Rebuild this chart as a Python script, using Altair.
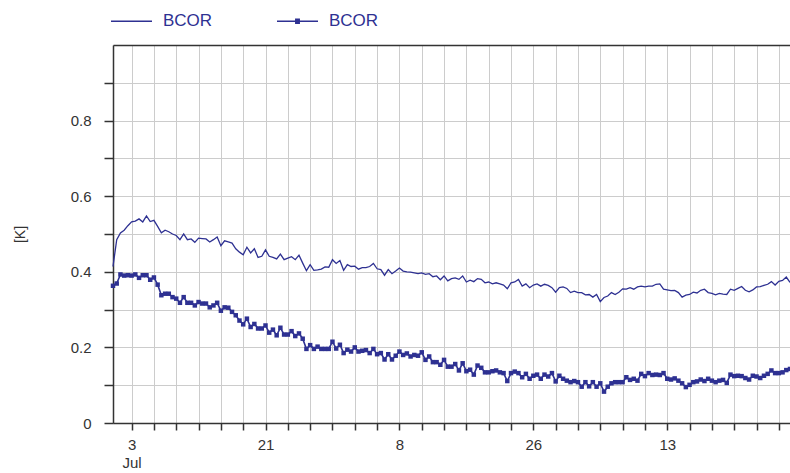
import altair as alt
import pandas as pd

# ---- data: 12-hourly BCOR values [K] ----
START = "2019-06-30 12:00"
STEP = "12h"

bcor_line = [
    0.414, 0.485, 0.503, 0.510, 0.522, 0.532, 0.534, 0.540, 0.532, 0.548,
    0.533, 0.536, 0.520, 0.503, 0.510, 0.506, 0.500, 0.496, 0.485, 0.500,
    0.485, 0.487, 0.478, 0.489, 0.488, 0.487, 0.479, 0.485, 0.492, 0.469,
    0.482, 0.479, 0.476, 0.461, 0.452, 0.445, 0.465, 0.450, 0.461, 0.438,
    0.441, 0.458, 0.441, 0.438, 0.434, 0.447, 0.432, 0.436, 0.440, 0.432,
    0.444, 0.423, 0.403, 0.419, 0.404, 0.405, 0.407, 0.413, 0.412, 0.432,
    0.422, 0.430, 0.404, 0.419, 0.414, 0.415, 0.407, 0.411, 0.411, 0.414,
    0.422, 0.408, 0.406, 0.391, 0.406, 0.395, 0.402, 0.410, 0.402, 0.400,
    0.399, 0.397, 0.395, 0.397, 0.393, 0.395, 0.387, 0.389, 0.379, 0.389,
    0.376, 0.382, 0.384, 0.380, 0.389, 0.373, 0.378, 0.374, 0.382, 0.380,
    0.371, 0.373, 0.368, 0.371, 0.368, 0.365, 0.355, 0.371, 0.373, 0.380,
    0.362, 0.368, 0.358, 0.365, 0.368, 0.362, 0.367, 0.364, 0.358, 0.346,
    0.358, 0.360, 0.356, 0.345, 0.349, 0.345, 0.345, 0.339, 0.340, 0.333,
    0.340, 0.321, 0.332, 0.336, 0.345, 0.340, 0.346, 0.355, 0.354, 0.358,
    0.354, 0.360, 0.362, 0.360, 0.362, 0.362, 0.367, 0.368, 0.354, 0.352,
    0.350, 0.351, 0.345, 0.333, 0.338, 0.340, 0.346, 0.344, 0.351, 0.354,
    0.345, 0.343, 0.339, 0.343, 0.341, 0.340, 0.354, 0.351, 0.356, 0.361,
    0.351, 0.347, 0.352, 0.360, 0.361, 0.364, 0.367, 0.374, 0.365, 0.375,
    0.377, 0.386, 0.372,
]

bcor_marked = [
    0.363, 0.369, 0.393, 0.390, 0.391, 0.390, 0.393, 0.384, 0.391, 0.391,
    0.379, 0.385, 0.366, 0.338, 0.342, 0.342, 0.333, 0.329, 0.318, 0.333,
    0.318, 0.318, 0.311, 0.320, 0.316, 0.316, 0.306, 0.311, 0.318, 0.297,
    0.306, 0.305, 0.294, 0.285, 0.271, 0.261, 0.276, 0.254, 0.262, 0.250,
    0.250, 0.258, 0.239, 0.247, 0.232, 0.252, 0.234, 0.234, 0.243, 0.230,
    0.237, 0.223, 0.196, 0.206, 0.196, 0.202, 0.196, 0.196, 0.196, 0.215,
    0.197, 0.207, 0.185, 0.194, 0.189, 0.200, 0.189, 0.191, 0.193, 0.185,
    0.196, 0.182, 0.185, 0.168, 0.182, 0.168, 0.178, 0.189, 0.180, 0.184,
    0.176, 0.180, 0.178, 0.187, 0.167, 0.176, 0.161, 0.161, 0.154, 0.167,
    0.149, 0.149, 0.156, 0.139, 0.158, 0.137, 0.141, 0.128, 0.152, 0.146,
    0.134, 0.134, 0.137, 0.139, 0.134, 0.132, 0.111, 0.132, 0.136, 0.132,
    0.121, 0.130, 0.117, 0.125, 0.128, 0.117, 0.128, 0.123, 0.132, 0.110,
    0.125, 0.117, 0.112, 0.108, 0.111, 0.108, 0.096, 0.108, 0.097, 0.108,
    0.096, 0.105, 0.083, 0.096, 0.105, 0.108, 0.108, 0.108, 0.121, 0.114,
    0.117, 0.112, 0.130, 0.124, 0.132, 0.127, 0.128, 0.127, 0.132, 0.117,
    0.115, 0.118, 0.112, 0.105, 0.095, 0.101, 0.108, 0.110, 0.115, 0.111,
    0.117, 0.112, 0.108, 0.112, 0.114, 0.106, 0.128, 0.124, 0.125, 0.124,
    0.119, 0.115, 0.125, 0.123, 0.119, 0.125, 0.130, 0.139, 0.132, 0.132,
    0.134, 0.140, 0.143,
]

SERIES = ["BCOR 1", "BCOR 2"]
LEGEND_LABEL = "BCOR"

# x-axis: a tick every third day, labelled every sixth tick
TICK_START = "2019-07-03"
TICK_END = "2019-09-28"
LABELLED_DAYS = ["07-03", "07-21", "08-08", "08-26", "09-13"]
FIRST_MONTH = "Jul"

Y_TICKS = [0.0, 0.1, 0.2, 0.3, 0.4, 0.5, 0.6, 0.7, 0.8, 0.9, 1.0]

# ---- styling ----
BLUE = "#2E3192"
DARK = "#333333"
GRID = "#cccccc"
FONT = "Liberation Sans"

times = pd.date_range(START, periods=len(bcor_line), freq=STEP)
n = len(times)
df = pd.DataFrame({
    "time": list(times) + list(times),
    "value": bcor_line + bcor_marked,
    "series": [SERIES[0]] * n + [SERIES[1]] * n,
})

tick_days = pd.date_range(TICK_START, TICK_END, freq="3D")
tick_values = [alt.DateTime(year=d.year, month=d.month, date=d.day) for d in tick_days]

first = LABELLED_DAYS[0]
others = ",".join(f"'{d}'" for d in LABELLED_DAYS[1:])
x_label_expr = (
    f"timeFormat(datum.value, '%m-%d') == '{first}' "
    f"? [timeFormat(datum.value, '%-d'), '{FIRST_MONTH}'] "
    f": (indexof([{others}], timeFormat(datum.value, '%m-%d')) >= 0 "
    f"? timeFormat(datum.value, '%-d') : '')"
)

x_scale = alt.Scale(domain=[
    alt.DateTime(year=times[0].year, month=times[0].month, date=times[0].day, hours=times[0].hour),
    alt.DateTime(year=times[-1].year, month=times[-1].month, date=times[-1].day, hours=times[-1].hour),
])

x_axis = alt.Axis(
    values=tick_values, labelExpr=x_label_expr, title=None,
    tickSize=7, tickWidth=1.5, tickColor=DARK,
    domainColor=DARK, domainWidth=1.5,
    gridColor=GRID, gridWidth=1,
    labelFont=FONT, labelFontSize=15, labelColor=DARK,
    labelPadding=7, labelLineHeight=18,
    labelOverlap=False, labelFlush=False,
)

top_test = "datum.value > 0.95"
y_axis = alt.Axis(
    values=Y_TICKS,
    labelExpr="datum.value > 0.95 || round(datum.value * 10) % 2 == 1 ? '' : format(datum.value, '.1~f')",
    title="[K]",
    tickSize=9, tickWidth=1.5, tickColor=DARK,
    tickOpacity={"condition": {"test": top_test, "value": 0}, "value": 1},
    domainColor=DARK, domainWidth=1.5,
    gridColor={"condition": {"test": top_test, "value": DARK}, "value": GRID},
    gridWidth={"condition": {"test": top_test, "value": 1.5}, "value": 1},
    labelFont=FONT, labelFontSize=15, labelColor=DARK, labelPadding=13,
    titleFont=FONT, titleFontSize=14, titleFontWeight="normal", titleColor=DARK,
    titlePadding=43,
)

base = alt.Chart(df).encode(
    x=alt.X("time:T", scale=x_scale, axis=x_axis),
    y=alt.Y("value:Q", scale=alt.Scale(domain=[0, 1], nice=False), axis=y_axis),
)

plain = base.transform_filter(f"datum.series == '{SERIES[0]}'")
marked = base.transform_filter(f"datum.series == '{SERIES[1]}'")

line_plain = plain.mark_line(color=BLUE, strokeWidth=1.3)
line_marked = marked.mark_line(color=BLUE, strokeWidth=1.6)
squares = marked.mark_square(color=BLUE, size=20, opacity=1)

# legend symbols: a plain stroke, and a stroke with a small solid square
# (the square is built from closely spaced strokes so it renders solid)
SYM_PLAIN = "M-1,0H1"
SYM_MARKED = (
    "M-1,0H1"
    "M-0.12,-0.1H0.12M-0.12,-0.05H0.12M-0.12,0.05H0.12M-0.12,0.1H0.12"
)

legend_layer = base.transform_filter("false").mark_point(
    filled=False, color=BLUE, strokeWidth=1.3
).encode(
    shape=alt.Shape(
        "series:N",
        scale=alt.Scale(domain=SERIES, range=[SYM_PLAIN, SYM_MARKED]),
        legend=alt.Legend(
            title=None, orient="none", direction="horizontal",
            legendX=-3, legendY=-45.5, padding=0,
            labelExpr=f"'{LEGEND_LABEL}'",
            labelFont=FONT, labelFontSize=17, labelColor=BLUE,
            labelOffset=10, columnPadding=61,
            symbolSize=1681, symbolStrokeWidth=1.3,
            symbolStrokeColor=BLUE, symbolOpacity=1,
        ),
    )
)

chart = alt.layer(line_plain, line_marked, squares, legend_layer).properties(
    width=677, height=378,
    autosize=alt.AutoSizeParams(type="none"),
    padding={"left": 113, "top": 45, "right": 0, "bottom": 50},
).configure_view(stroke=None).configure(background="white", font=FONT)

chart.save("out.html", embed_options={"renderer": "svg", "actions": False})
